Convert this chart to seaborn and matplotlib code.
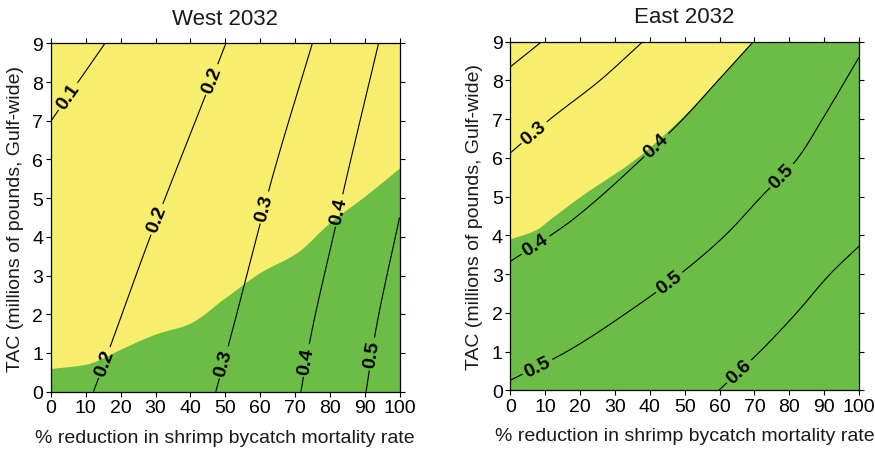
import numpy as np
import matplotlib
matplotlib.use("Agg")
import matplotlib.pyplot as plt
import seaborn as sns

# ---- axes ----
x_ticks = list(range(0, 101, 10))
y_ticks = list(range(0, 10))
x_label = "% reduction in shrimp bycatch mortality rate"
y_label = "TAC (millions of pounds, Gulf-wide)"

# ---- West 2032: contour crossings (x = % reduction, y = TAC) ----
west_levels = [0.1, 0.2, 0.3, 0.4, 0.5]
west_01_x = [0.2, 15.5]
west_01_y = [7.02, 9.0]
west_02_x = [12.2, 16.9, 28.4, 32.2, 44.2, 50.2]
west_02_y = [0.0, 1.14, 3.98, 4.87, 7.62, 9.0]
west_03_x = [47.3, 50.9, 60.0, 63.2, 75.0]
west_03_y = [0.0, 1.19, 4.33, 5.43, 9.0]
west_04_x = [71.7, 74.4, 81.8, 83.9, 94.0]
west_04_y = [0.0, 1.36, 4.33, 5.17, 9.0]
west_05_x = [90.4, 93.0, 100.0]
west_05_y = [0.0, 1.49, 4.5]
# boundary between the yellow (above) and green (below) zones
west_zone_x = [0, 10, 12.2, 20, 30, 39.4, 50, 60, 70.5, 80, 90, 100]
west_zone_y = [0.6, 0.71, 0.77, 1.1, 1.49, 1.75, 2.43, 3.08, 3.59, 4.37, 5.05, 5.78]
west_label_pos = [(5.0, 7.62), (46.4, 8.05), (30.5, 4.45), (15.2, 0.76),
                  (61.6, 4.75), (49.5, 0.76), (82.8, 4.68), (73.6, 0.8),
                  (92.4, 0.97)]

# ---- East 2032 ----
east_levels = [0.2, 0.3, 0.4, 0.5, 0.6]
east_02_x = [0.0, 9.0]
east_02_y = [8.35, 9.0]
east_03_x = [0.0, 11.4, 25.7, 38.0]
east_03_y = [6.13, 7.0, 8.0, 9.0]
east_04_x = [0.0, 14.3, 18.1, 38.0, 49.5, 59.6, 69.7]
east_04_y = [3.33, 4.17, 4.42, 6.0, 7.0, 8.0, 9.0]
east_05_x = [0.0, 16.2, 33.4, 48.7, 61.6, 72.0, 82.5, 89.5, 100.0]
east_05_y = [0.26, 1.0, 2.0, 3.0, 4.0, 5.0, 6.0, 7.0, 8.6]
east_06_x = [59.8, 71.6, 82.1, 91.7, 100.0]
east_06_y = [0.0, 1.0, 2.0, 3.0, 3.72]
east_zone_x = [0, 7.6, 11.4, 20, 36.2, 48.7, 59.2, 69.2]
east_zone_y = [3.91, 4.16, 4.42, 5.0, 6.0, 7.0, 8.0, 9.0]
east_label_pos = [(7.1, 6.62), (42.0, 6.32), (7.4, 3.73), (75.9, 5.71),
                  (44.7, 2.89), (7.6, 0.64), (65.7, 0.48)]

YELLOW = "#F6EE6C"
GREEN = "#6BBD46"

sns.set_style("ticks")
plt.rcParams["font.family"] = ["Liberation Sans", "DejaVu Sans"]


def smooth_curve(xk, yk, x):
    """Monotone cubic (Fritsch-Carlson) through the knots, linear beyond them."""
    xk = np.asarray(xk, float)
    yk = np.asarray(yk, float)
    x = np.asarray(x, float)
    h = np.diff(xk)
    d = np.diff(yk) / h
    n = len(xk)
    m = np.empty(n)
    m[0], m[-1] = d[0], d[-1]
    for k in range(1, n - 1):
        if d[k - 1] * d[k] <= 0:
            m[k] = 0.0
        else:
            w1 = 2 * h[k] + h[k - 1]
            w2 = h[k] + 2 * h[k - 1]
            m[k] = (w1 + w2) / (w1 / d[k - 1] + w2 / d[k])
    idx = np.clip(np.searchsorted(xk, x) - 1, 0, n - 2)
    t = (x - xk[idx]) / h[idx]
    h00 = 2 * t**3 - 3 * t**2 + 1
    h10 = t**3 - 2 * t**2 + t
    h01 = -2 * t**3 + 3 * t**2
    h11 = t**3 - t**2
    out = h00 * yk[idx] + h10 * h[idx] * m[idx] + h01 * yk[idx + 1] + h11 * h[idx] * m[idx + 1]
    lo = x < xk[0]
    hi = x > xk[-1]
    out[lo] = yk[0] + (x[lo] - xk[0]) * m[0]
    out[hi] = yk[-1] + (x[hi] - xk[-1]) * m[-1]
    return out


def build_field(lines, levels, xg, yg):
    """Grid whose iso-lines pass through the given contour crossings."""
    lv = np.asarray(levels, float)
    cross = np.array([smooth_curve(ys, xs, yg) for xs, ys in lines])
    Z = np.empty((len(yg), len(xg)))
    for i in range(len(yg)):
        cx = cross[:, i]
        z = np.interp(xg, cx, lv)
        left = xg < cx[0]
        right = xg > cx[-1]
        z[left] = lv[0] + (xg[left] - cx[0]) * (lv[1] - lv[0]) / (cx[1] - cx[0])
        z[right] = lv[-1] + (xg[right] - cx[-1]) * (lv[-1] - lv[-2]) / (cx[-1] - cx[-2])
        Z[i] = z
    return Z


def draw_panel(ax, title, lines, levels, zone_x, zone_y, label_pos):
    xg = np.linspace(0, 100, 501)
    yg = np.linspace(0, 9, 451)
    Z = build_field(lines, levels, xg, yg)

    ax.set_facecolor(GREEN)
    bx = np.linspace(zone_x[0], zone_x[-1], 300)
    by = smooth_curve(zone_x, zone_y, bx)
    ax.fill_between(bx, by, y_ticks[-1], color=YELLOW, linewidth=0, zorder=1)
    cs = ax.contour(xg, yg, Z, levels=levels, colors="black", linewidths=0.8, zorder=2)
    with plt.rc_context({"font.weight": "bold"}):
        texts = ax.clabel(cs, manual=label_pos, inline=True, fontsize=14,
                          fmt="%.1f", inline_spacing=3)
    for t in texts:
        t.set_fontweight("bold")

    ax.set_xlim(0, 100)
    ax.set_ylim(0, 9)
    ax.set_xticks(x_ticks)
    ax.set_yticks(y_ticks)
    ax.tick_params(axis="both", which="major", direction="out", length=3.5, width=0.8,
                   labelsize=14, colors="black", top=True, right=True, pad=2)
    for s in ax.spines.values():
        s.set_visible(True)
        s.set_linewidth(0.9)
        s.set_color("black")
    ax.set_title(title, fontsize=16, pad=14, color="#1a1a1a")
    ax.set_xlabel(x_label, fontsize=14, labelpad=9, color="#1a1a1a")
    ax.set_ylabel(y_label, fontsize=14, labelpad=6, color="#1a1a1a")


fig = plt.figure(figsize=(8.75, 4.56), dpi=100)
ax_w = fig.add_axes([51 / 875, 1 - 392.7 / 456, 348.5 / 875, 348.4 / 456])
ax_e = fig.add_axes([510.3 / 875, 1 - 391.3 / 456, 348.7 / 875, 348.6 / 456])

west_lines = [(west_01_x, west_01_y), (west_02_x, west_02_y), (west_03_x, west_03_y),
              (west_04_x, west_04_y), (west_05_x, west_05_y)]
east_lines = [(east_02_x, east_02_y), (east_03_x, east_03_y), (east_04_x, east_04_y),
              (east_05_x, east_05_y), (east_06_x, east_06_y)]

draw_panel(ax_w, "West 2032", west_lines, west_levels, west_zone_x, west_zone_y, west_label_pos)
draw_panel(ax_e, "East 2032", east_lines, east_levels, east_zone_x, east_zone_y, east_label_pos)

fig.savefig("out.png", dpi=100)
